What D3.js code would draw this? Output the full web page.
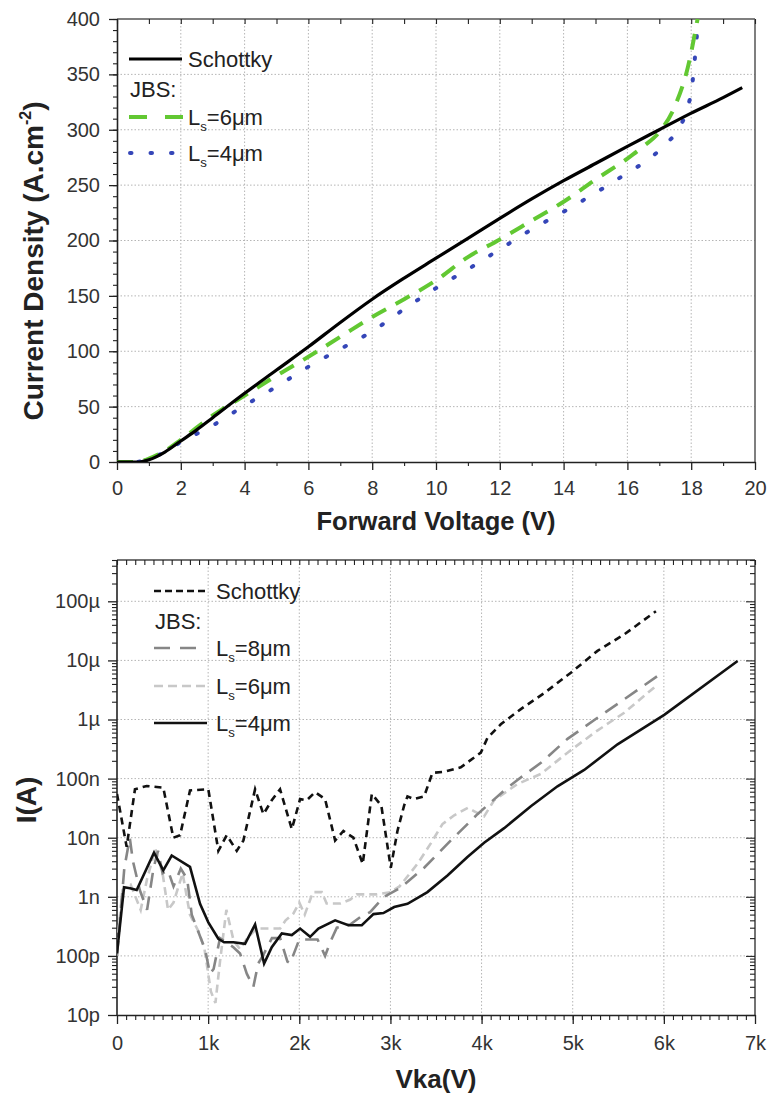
<!DOCTYPE html>
<html><head><meta charset="utf-8">
<script src="https://cdn.jsdelivr.net/npm/d3@7"></script>
<style>body{margin:0;background:#fff}</style>
</head><body>
<svg id="c" width="768" height="1095" xmlns="http://www.w3.org/2000/svg"></svg>
<script>
// ---------- DATA: top chart (forward J-V) ----------
const topSchottkyV = [0,0.5,0.7,1,1.5,2,2.5,3,4,5,6,7,8,9,10,11,12,13,14,15,16,17,18,19,19.6];
const topSchottkyJ = [0,0,0,2,9,19,29,40,62,83,104,126,147,166,184,202,220,237.5,254,269.5,285,300,315,329,338];
const topLs6V = [0,0.6,0.8,1,1.5,2,3,4,5,6,7,8,9,10,11,12,13,14,15,16,16.5,17,17.5,17.9,18.2];
const topLs6J = [0,0,1,3,10,20,42,60,78,95,113,131,147,164,185,201,218,235,255,274,285,298,322,357,400];
const topLs4V = [0,0.6,0.8,1,1.5,2,3,4,5,6,7,8,9,10,11,12,13,14,15,16,16.6,17.2,17.65,17.9,18.03,18.1,18.16,18.22];
const topLs4J = [0,0,1,3,9,18,33,51,68,86,102,118,138,157,174,192,210,226,243,261,272,287,303,321,340,360,379,400];
const topXTicks = [0,2,4,6,8,10,12,14,16,18,20];
const topYTicks = [0,50,100,150,200,250,300,350,400];

// ---------- DATA: bottom chart (reverse I-V) ----------
const botSchottkyV = [0,106,197,326,508,618,692,801,1002,1112,1204,1314,1387,1515,1606,1698,1789,1918,2009,2082,2173,2283,2393,2484,2594,2696,2796,2900,3004,3077,3150,3187,3260,3370,3461,3589,3772,3992,4065,4211,4431,4687,4980,5272,5565,5913];
const botSchottkyI = [5.5e-8,7e-9,6.6e-8,7.5e-8,7e-8,1e-8,1.1e-8,6.3e-8,6.6e-8,6e-9,1.1e-8,6e-9,9e-9,6.6e-8,2.5e-8,4.3e-8,6.6e-8,1.4e-8,4.5e-8,4.3e-8,5.9e-8,4.5e-8,9e-9,1.3e-8,1e-8,3.6e-9,5.5e-8,3.5e-8,3.1e-9,1.3e-8,3.5e-8,5e-8,4.5e-8,5e-8,1.25e-7,1.3e-7,1.55e-7,2.75e-7,4.9e-7,8.3e-7,1.5e-6,2.8e-6,6.2e-6,1.45e-5,2.75e-5,6.8e-5];
const botLs8V = [0,80,140,175,250,330,400,450,500,560,620,700,770,820,875,966,1020,1060,1130,1277,1350,1424,1496,1550,1600,1700,1790,1870,1900,2000,2100,2200,2283,2339,2412,2558,2667,2777,2930,3106,3370,3663,3955,4248,4394,4651,4943,5272,5565,5949];
const botLs8I = [1e-10,3e-9,1e-8,4e-9,1.3e-9,6e-10,3e-9,6e-9,2.5e-9,2.8e-9,1.5e-9,3e-9,2e-9,5e-10,3e-10,1.3e-10,5e-11,6e-11,2e-10,1.4e-10,1.1e-10,5e-11,3e-11,7.5e-11,1e-10,2e-10,2e-10,8e-11,7.5e-11,1.9e-10,1.9e-10,1.9e-10,1e-10,1.7e-10,3e-10,3.4e-10,4.5e-10,5.5e-10,1e-9,1.4e-9,3.1e-9,9e-9,2.5e-8,6.3e-8,9.5e-8,1.85e-7,4.7e-7,1.07e-6,2.2e-6,5.7e-6];
const botLs6V = [0,60,150,260,330,420,500,560,620,720,800,900,960,1030,1080,1130,1200,1280,1350,1430,1530,1680,1790,1850,1935,2000,2060,2150,2247,2300,2450,2560,2630,2750,2850,3000,3100,3296,3443,3571,3700,3850,3920,4028,4138,4394,4650,4950,5270,5565,5895];
const botLs6I = [1.5e-10,1.3e-9,1.6e-9,6e-10,2e-9,6.5e-9,2.5e-9,6e-10,8e-10,2.5e-9,5e-10,2.5e-10,1.3e-10,2.5e-11,1.6e-11,8e-11,6e-10,1.8e-10,1.3e-10,2e-10,2.9e-10,2.9e-10,2.9e-10,4e-10,5.2e-10,8e-10,5e-10,1.2e-9,1.2e-9,7.7e-10,7.7e-10,9e-10,1.1e-9,1.1e-9,1.1e-9,1.2e-9,1.5e-9,3.6e-9,8e-9,1.7e-8,2.4e-8,3.2e-8,2.8e-8,2.3e-8,4.3e-8,8.1e-8,1.2e-7,2.8e-7,6.5e-7,1.3e-6,3.5e-6];
const botLs4V = [0,77,143,216,406,508,600,801,911,1002,1112,1175,1277,1405,1515,1614,1698,1808,1918,2009,2119,2210,2393,2539,2686,2741,2814,2923,3041,3187,3406,3626,3845,4028,4248,4541,4833,5126,5492,6004,6809];
const botLs4I = [1.1e-10,1.45e-9,1.4e-9,1.3e-9,5.6e-9,2.8e-9,5e-9,3.2e-9,7.6e-10,3.7e-10,1.95e-10,1.7e-10,1.7e-10,1.6e-10,3.4e-10,7.4e-11,1.4e-10,2.4e-10,2.25e-10,2.9e-10,2.1e-10,2.9e-10,4e-10,3.3e-10,3.3e-10,4e-10,5.1e-10,5.3e-10,6.7e-10,7.6e-10,1.2e-9,2.3e-9,4.7e-9,8.2e-9,1.45e-8,3.4e-8,7.4e-8,1.4e-7,3.8e-7,1.2e-6,9.8e-6];
const botXTicks = [0,1000,2000,3000,4000,5000,6000,7000];
const botXLabels = ["0","1k","2k","3k","4k","5k","6k","7k"];
const botYTicks = [1e-11,1e-10,1e-9,1e-8,1e-7,1e-6,1e-5,1e-4];
const botYLabels = ["10p","100p","1n","10n","100n","1µ","10µ","100µ"];

// ---------- DRAW ----------
const F = "'Liberation Sans', Arial, Helvetica, sans-serif";
const svg = d3.select("#c");
const zip = (xs, ys) => xs.map((x, i) => [x, ys[i]]);

function styleAxis(g, labelSize) {
  g.select(".domain").attr("stroke", "#222").attr("stroke-width", 1.6);
  g.selectAll(".tick line").attr("stroke", "#222").attr("stroke-width", 1.3);
  g.selectAll("text").attr("font-family", F).attr("font-size", labelSize || 20).attr("fill", "#333");
}
function minorAxis(g) {
  g.select(".domain").remove();
  g.selectAll(".tick line").attr("stroke", "#222").attr("stroke-width", 1.1);
}

// ===== TOP CHART =====
const T = {l:117, r:755, t:19, b:462};
const xT = d3.scaleLinear().domain([0,20]).range([T.l, T.r]);
const yT = d3.scaleLinear().domain([0,400]).range([T.b, T.t]);
const gTop = svg.append("g");
gTop.append("g").selectAll("line").data(topXTicks.slice(1,-1)).join("line")
  .attr("x1", d=>xT(d)).attr("x2", d=>xT(d)).attr("y1", T.t).attr("y2", T.b)
  .attr("stroke", "#b5b5b5").attr("stroke-width", 1).attr("stroke-dasharray", "1.5,2");
gTop.append("g").selectAll("line").data(topYTicks.slice(1,-1)).join("line")
  .attr("y1", d=>yT(d)).attr("y2", d=>yT(d)).attr("x1", T.l).attr("x2", T.r)
  .attr("stroke", "#b5b5b5").attr("stroke-width", 1).attr("stroke-dasharray", "1.5,2");
gTop.append("line").attr("x1",T.l).attr("x2",T.r).attr("y1",T.t).attr("y2",T.t).attr("stroke","#555").attr("stroke-width",1.5);
gTop.append("line").attr("x1",T.r).attr("x2",T.r).attr("y1",T.t).attr("y2",T.b).attr("stroke","#555").attr("stroke-width",1.5);
gTop.append("g").attr("transform",`translate(0,${T.t})`)
  .call(d3.axisTop(xT).tickValues(d3.range(0,21,1)).tickSize(-5).tickFormat("")).call(minorAxis);
gTop.append("g").attr("transform",`translate(${T.l},0)`)
  .call(d3.axisLeft(yT).tickValues(d3.range(0,401,10)).tickSize(4).tickFormat("")).call(minorAxis);
gTop.append("g").attr("transform",`translate(0,${T.b})`)
  .call(d3.axisBottom(xT).tickValues(d3.range(1,20,2)).tickSize(4).tickFormat("")).call(minorAxis);
const axL = gTop.append("g").attr("transform",`translate(${T.l},0)`)
  .call(d3.axisLeft(yT).tickValues(topYTicks).tickSize(8).tickSizeOuter(0));
styleAxis(axL); axL.selectAll("text").attr("x",-17);
const axB = gTop.append("g").attr("transform",`translate(0,${T.b})`)
  .call(d3.axisBottom(xT).tickValues(topXTicks).tickSize(8).tickSizeOuter(0));
styleAxis(axB); axB.selectAll("text").attr("dy","0").attr("y",33);

svg.append("clipPath").attr("id","clipT").append("rect")
  .attr("x",T.l).attr("y",T.t-2).attr("width",T.r-T.l).attr("height",T.b-T.t+2);
const lineT = d3.line().x(d=>xT(d[0])).y(d=>yT(d[1])).curve(d3.curveMonotoneX);
const dl = gTop.append("g").attr("clip-path","url(#clipT)");
dl.append("path").attr("d", lineT(zip(topLs4V, topLs4J))).attr("fill","none")
  .attr("stroke","#3546b8").attr("stroke-width",4).attr("stroke-linecap","round").attr("stroke-dasharray","1.5,20");
dl.append("path").attr("d", lineT(zip(topLs6V, topLs6J))).attr("fill","none")
  .attr("stroke","#62c832").attr("stroke-width",4).attr("stroke-dasharray","16,11");
dl.append("path").attr("d", lineT(zip(topSchottkyV, topSchottkyJ))).attr("fill","none")
  .attr("stroke","#000").attr("stroke-width",3.2);

gTop.append("text").attr("x",(T.l+T.r)/2).attr("y",530).attr("text-anchor","middle")
  .attr("font-family",F).attr("font-size",25.5).attr("font-weight","bold").attr("fill","#222")
  .text("Forward Voltage (V)");
const yt = gTop.append("text").attr("transform","translate(43,261) rotate(-90)").attr("text-anchor","middle")
  .attr("font-family",F).attr("font-size",28).attr("font-weight","bold").attr("fill","#222");
yt.append("tspan").text("Current Density (A.cm");
yt.append("tspan").attr("font-size",16).attr("dy",-12).text("-2");
yt.append("tspan").attr("dy",12).text(")");

function lsLabel(g, x, y, txt, size) {
  const t = g.append("text").attr("x",x).attr("y",y).attr("font-family",F).attr("font-size",size).attr("fill","#222");
  t.append("tspan").text("L");
  t.append("tspan").attr("font-size",size*0.6).attr("dy",6).text("s");
  t.append("tspan").attr("dy",-6).text(txt);
}
const lgT = gTop.append("g");
lgT.append("line").attr("x1",129).attr("x2",182).attr("y1",59).attr("y2",59).attr("stroke","#000").attr("stroke-width",3.2);
lgT.append("text").attr("x",188).attr("y",67).attr("font-family",F).attr("font-size",22).attr("fill","#222").text("Schottky");
lgT.append("text").attr("x",130).attr("y",97).attr("font-family",F).attr("font-size",22).attr("fill","#222").text("JBS:");
lgT.append("line").attr("x1",129).attr("x2",183).attr("y1",117).attr("y2",117).attr("stroke","#62c832").attr("stroke-width",4).attr("stroke-dasharray","18,18");
lsLabel(lgT, 188, 125, "=6μm", 22);
lgT.append("line").attr("x1",130).attr("x2",176).attr("y1",153).attr("y2",153).attr("stroke","#3546b8").attr("stroke-width",4).attr("stroke-linecap","round").attr("stroke-dasharray","1.5,19");
lsLabel(lgT, 188, 161, "=4μm", 22);

// ===== BOTTOM CHART =====
const B = {l:117, r:755, t:560, b:1015};
const xB = d3.scaleLinear().domain([0,7000]).range([B.l, B.r]);
const yB = d3.scaleLog().domain([1e-11, 5e-4]).range([B.b, B.t]);
const gBot = svg.append("g");
gBot.append("g").selectAll("line").data(botXTicks.slice(1,-1)).join("line")
  .attr("x1", d=>xB(d)).attr("x2", d=>xB(d)).attr("y1", B.t).attr("y2", B.b)
  .attr("stroke", "#b5b5b5").attr("stroke-width", 1).attr("stroke-dasharray", "1.5,2");
gBot.append("g").selectAll("line").data(botYTicks.slice(1)).join("line")
  .attr("y1", d=>yB(d)).attr("y2", d=>yB(d)).attr("x1", B.l).attr("x2", B.r)
  .attr("stroke", "#b5b5b5").attr("stroke-width", 1).attr("stroke-dasharray", "1.5,2");
gBot.append("line").attr("x1",B.l).attr("x2",B.r).attr("y1",B.t).attr("y2",B.t).attr("stroke","#444").attr("stroke-width",1.5);
gBot.append("line").attr("x1",B.r).attr("x2",B.r).attr("y1",B.t).attr("y2",B.b).attr("stroke","#444").attr("stroke-width",1.5);
const minorLog = [];
for (let e=-11; e<=-4; e++) for (let m=2; m<=9; m++) { const v = m*Math.pow(10,e); if (v<=5e-4) minorLog.push(v); }
gBot.append("g").attr("transform",`translate(0,${B.t})`)
  .call(d3.axisTop(xB).tickValues(d3.range(0,7001,100)).tickSize(-5).tickFormat("")).call(minorAxis);
gBot.append("g").attr("transform",`translate(${B.r},0)`)
  .call(d3.axisRight(yB).tickValues(minorLog).tickSize(-5).tickFormat("")).call(minorAxis);
gBot.append("g").attr("transform",`translate(${B.r},0)`)
  .call(d3.axisRight(yB).tickValues(botYTicks).tickSize(-9).tickFormat("")).call(minorAxis);
gBot.append("g").attr("transform",`translate(${B.l},0)`)
  .call(d3.axisLeft(yB).tickValues(minorLog).tickSize(5).tickFormat("")).call(minorAxis);
gBot.append("g").attr("transform",`translate(0,${B.b})`)
  .call(d3.axisBottom(xB).tickValues(d3.range(100,7000,100)).tickSize(5).tickFormat("")).call(minorAxis);
const bL = gBot.append("g").attr("transform",`translate(${B.l},0)`)
  .call(d3.axisLeft(yB).tickValues(botYTicks).tickSize(9).tickSizeOuter(0).tickFormat((d,i)=>botYLabels[i]));
bL.select(".domain").attr("d", `M0,${B.t}V${B.b}`);
styleAxis(bL); bL.selectAll("text").attr("x",-17);
const bB = gBot.append("g").attr("transform",`translate(0,${B.b})`)
  .call(d3.axisBottom(xB).tickValues(botXTicks).tickSize(9).tickSizeOuter(0).tickFormat((d,i)=>botXLabels[i]));
styleAxis(bB); bB.selectAll("text").attr("dy","0").attr("y",35);

svg.append("clipPath").attr("id","clipB").append("rect")
  .attr("x",B.l).attr("y",B.t).attr("width",B.r-B.l).attr("height",B.b-B.t);
const lineB = d3.line().x(d=>xB(d[0])).y(d=>yB(d[1]));
const db = gBot.append("g").attr("clip-path","url(#clipB)");
db.append("path").attr("d", lineB(zip(botLs6V, botLs6I))).attr("fill","none")
  .attr("stroke","#c8c8c8").attr("stroke-width",2.6).attr("stroke-dasharray","8,5");
db.append("path").attr("d", lineB(zip(botLs8V, botLs8I))).attr("fill","none")
  .attr("stroke","#868686").attr("stroke-width",2.6).attr("stroke-dasharray","15,9");
db.append("path").attr("d", lineB(zip(botLs4V, botLs4I))).attr("fill","none")
  .attr("stroke","#111").attr("stroke-width",2.6);
db.append("path").attr("d", lineB(zip(botSchottkyV, botSchottkyI))).attr("fill","none")
  .attr("stroke","#111").attr("stroke-width",2.6).attr("stroke-dasharray","7,5");

gBot.append("text").attr("x",(B.l+B.r)/2).attr("y",1088).attr("text-anchor","middle")
  .attr("font-family",F).attr("font-size",26).attr("font-weight","bold").attr("fill","#222").text("Vka(V)");
gBot.append("text").attr("transform","translate(36,800) rotate(-90)").attr("text-anchor","middle")
  .attr("font-family",F).attr("font-size",28).attr("font-weight","bold").attr("fill","#222").text("I(A)");

const lgB = gBot.append("g");
lgB.append("line").attr("x1",154).attr("x2",207).attr("y1",591).attr("y2",591).attr("stroke","#111").attr("stroke-width",2.6).attr("stroke-dasharray","7,4");
lgB.append("text").attr("x",216).attr("y",599).attr("font-family",F).attr("font-size",22).attr("fill","#222").text("Schottky");
lgB.append("text").attr("x",155).attr("y",629).attr("font-family",F).attr("font-size",22).attr("fill","#222").text("JBS:");
lgB.append("line").attr("x1",154).attr("x2",196).attr("y1",648).attr("y2",648).attr("stroke","#868686").attr("stroke-width",2.6).attr("stroke-dasharray","16,10");
lsLabel(lgB, 216, 656, "=8μm", 22);
lgB.append("line").attr("x1",154).attr("x2",207).attr("y1",686).attr("y2",686).attr("stroke","#c8c8c8").attr("stroke-width",2.6).attr("stroke-dasharray","9,5");
lsLabel(lgB, 216, 694, "=6μm", 22);
lgB.append("line").attr("x1",154).attr("x2",207).attr("y1",723).attr("y2",723).attr("stroke","#111").attr("stroke-width",2.6);
lsLabel(lgB, 216, 731, "=4μm", 22);
</script>
</body></html>
